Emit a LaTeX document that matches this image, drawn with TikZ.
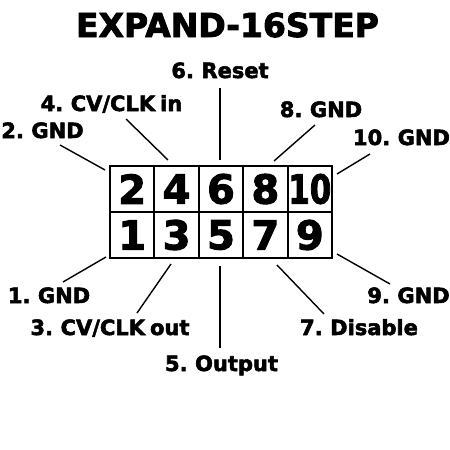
\documentclass[tikz,border=0pt]{standalone}
\usepackage{fontspec}
\setmainfont{DejaVu Sans}[BoldFeatures={FakeBold=2.5}]
\newcommand\pinfont{\bfseries\fontsize{21}{24}\selectfont\spaceskip 0.24em\relax}
\begin{document}
\begin{tikzpicture}[x=1pt,y=-1pt,
	lbl/.style={font=\pinfont, inner sep=0pt, anchor=base},
	cell/.style={draw, line width=2pt, minimum width=44.4pt, minimum height=46pt, inner sep=0pt, font=\bfseries\fontsize{40}{45}\selectfont},
	wire/.style={line width=1.4pt}]
	\useasboundingbox (0,0) rectangle (450,450);

	% title
	\node[lbl, font=\bfseries\fontsize{33}{38}\selectfont] (title) at (227.5,37) {EXPAND-16STEP};

	% header cells, even row on top
	\node[cell] (p2) at (132.2,189) {2};
	\node[cell] (p4) at (176.6,189) {4};
	\node[cell] (p6) at (221.0,189) {6};
	\node[cell] (p8) at (265.4,189) {8};
	\node[cell] (p10) at (309.8,189) {\scalebox{0.77}[1]{10}};
	\node[cell] (p1) at (132.2,235) {1};
	\node[cell] (p3) at (176.6,235) {3};
	\node[cell] (p5) at (221.0,235) {5};
	\node[cell] (p7) at (265.4,235) {7};
	\node[cell] (p9) at (309.8,235) {9};

	% pin labels
	\node[lbl] (l2) at (42.5,138) {2. GND};
	\node[lbl] (l4) at (111.5,111) {4. CV/CLK in};
	\node[lbl] (l6) at (220,78) {6. Reset};
	\node[lbl] (l8) at (321,117) {8. GND};
	\node[lbl] (l10) at (401.5,145) {10. GND};
	\node[lbl] (l1) at (49,303) {1. GND};
	\node[lbl] (l3) at (110,335) {3. CV/CLK out};
	\node[lbl] (l5) at (221.5,371) {5. Output};
	\node[lbl] (l7) at (359,335) {7. Disable};
	\node[lbl] (l9) at (408.5,303) {9. GND};

	% line ends
	\coordinate (w2a) at (60,145);   \coordinate (w2b) at (105,170);
	\coordinate (w4a) at (126,119);  \coordinate (w4b) at (168,160);
	\coordinate (w6a) at (220,88);   \coordinate (w6b) at (220,160);
	\coordinate (w8a) at (315,125);  \coordinate (w8b) at (274,161);
	\coordinate (w10a) at (370,154); \coordinate (w10b) at (337,174);
	\coordinate (w1a) at (63,282);   \coordinate (w1b) at (106,257);
	\coordinate (w3a) at (137,313);  \coordinate (w3b) at (171,264);
	\coordinate (w5a) at (220,348);  \coordinate (w5b) at (220,266);
	\coordinate (w7a) at (324,314);  \coordinate (w7b) at (277,265);
	\coordinate (w9a) at (390,284);  \coordinate (w9b) at (337,254);

	\draw[wire] (w2a) -- (w2b);
	\draw[wire] (w4a) -- (w4b);
	\draw[wire] (w6a) -- (w6b);
	\draw[wire] (w8a) -- (w8b);
	\draw[wire] (w10a) -- (w10b);
	\draw[wire] (w1a) -- (w1b);
	\draw[wire] (w3a) -- (w3b);
	\draw[wire] (w5a) -- (w5b);
	\draw[wire] (w7a) -- (w7b);
	\draw[wire] (w9a) -- (w9b);
\end{tikzpicture}
\end{document}
